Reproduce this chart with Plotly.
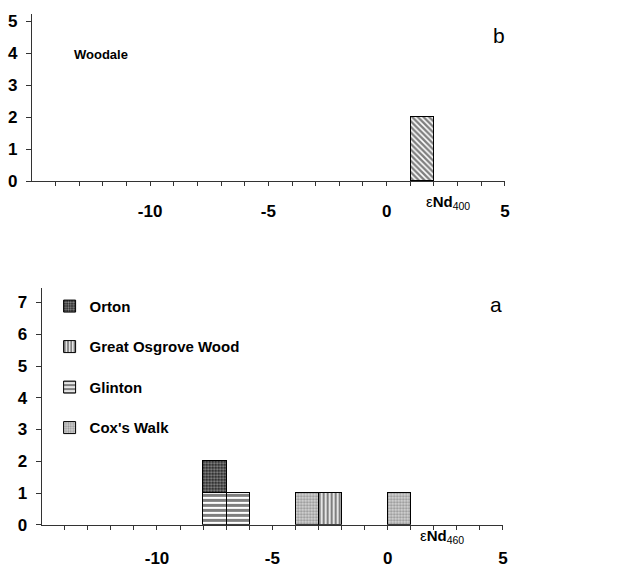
import plotly.graph_objects as go

# epsilon-Nd histogram bins (bin centres, width 1) and sample counts per site
woodale_bins = [1.5]
woodale_counts = [2]

glinton_bins = [-7.5, -6.5]
glinton_counts = [1, 1]
orton_bins = [-7.5]
orton_counts = [1]
coxs_walk_bins = [-3.5, 0.5]
coxs_walk_counts = [1, 1]
osgrove_bins = [-2.5]
osgrove_counts = [1]

x_label_vals = [-10, -5, 0, 5]
x_label_text = ["-10", "-5", "0", "5"]
x_minor_vals = list(range(-14, 6))

W, H = 629, 573
FONT = "Liberation Sans, Arial, Helvetica, sans-serif"


def px_x(p):
    return p / W


def px_y(p):
    return 1 - p / H


fig = go.Figure()

line = dict(color="black", width=1)

# panel b (top)
fig.add_trace(go.Bar(
    x=woodale_bins, y=woodale_counts, width=1, xaxis="x2", yaxis="y2",
    marker=dict(color="white", line=line,
                pattern=dict(shape="\\", size=4, solidity=0.6, fgcolor="black", bgcolor="white")),
    showlegend=False, name="Woodale"))

# panel a (bottom), stacked
fig.add_trace(go.Bar(
    x=glinton_bins, y=glinton_counts, width=1, name="Glinton", legendrank=3, legendgroup="g3",
    marker=dict(color="white", line=line,
                pattern=dict(shape="-", size=5, solidity=0.6, fgcolor="black", bgcolor="white"))))
fig.add_trace(go.Bar(
    x=orton_bins, y=orton_counts, width=1, name="Orton", legendrank=1, legendgroup="g1",
    marker=dict(color="black", line=line,
                pattern=dict(shape=".", size=3, solidity=0.45, fgcolor="white", bgcolor="#222222"))))
fig.add_trace(go.Bar(
    x=coxs_walk_bins, y=coxs_walk_counts, width=1, name="Cox's Walk", legendrank=4, legendgroup="g4",
    marker=dict(color="white", line=line,
                pattern=dict(shape=".", size=3, solidity=0.45, fgcolor="#505050", bgcolor="#d6d6d6"))))
fig.add_trace(go.Bar(
    x=osgrove_bins, y=osgrove_counts, width=1, name="Great Osgrove Wood", legendrank=2, legendgroup="g2",
    marker=dict(color="white", line=line,
                pattern=dict(shape="|", size=4, solidity=0.6, fgcolor="black", bgcolor="white"))))

tick_font = dict(family=FONT, size=17, color="black", weight="bold")

xaxis_common = dict(
    range=[-15, 5], tickmode="array", tickvals=x_label_vals, ticktext=x_label_text,
    ticks="outside", ticklen=4, tickcolor="#333", tickwidth=1,
    minor=dict(tickmode="array", tickvals=x_minor_vals, ticks="outside", ticklen=4,
               tickcolor="#333", tickwidth=1, showgrid=False),
    showline=True, linecolor="#333", linewidth=1, showgrid=False, zeroline=False,
    tickfont=tick_font, ticklabelstandoff=10, fixedrange=True,
)
yaxis_common = dict(
    ticks="outside", ticklen=5, tickcolor="#333", tickwidth=1, dtick=1,
    showline=True, linecolor="#333", linewidth=1, showgrid=False, zeroline=False,
    tickfont=tick_font, ticklabelstandoff=5, fixedrange=True,
)

fig.update_layout(
    width=W, height=H,
    margin=dict(l=0, r=0, t=0, b=0),
    paper_bgcolor="white", plot_bgcolor="white",
    barmode="stack", bargap=0,
    font=dict(family=FONT, color="black"),
    xaxis=dict(xaxis_common, domain=[px_x(42), px_x(507)], anchor="y", ticklabelstandoff=14),
    yaxis=dict(yaxis_common, domain=[px_y(534), px_y(292)], range=[0, 7.46], anchor="x"),
    xaxis2=dict(xaxis_common, domain=[px_x(32), px_x(509)], anchor="y2"),
    yaxis2=dict(yaxis_common, domain=[px_y(183), px_y(12)], range=[0, 5.23], anchor="x2"),
    legend=dict(
        x=px_x(50), y=px_y(294), xanchor="left", yanchor="top",
        font=dict(family=FONT, size=15, weight="bold", color="black"),
        bgcolor="rgba(0,0,0,0)", tracegroupgap=18, traceorder="grouped",
    ),
    annotations=[
        dict(text="b", x=px_x(503), y=px_y(20), xref="paper", yref="paper", xanchor="center",
             showarrow=False, font=dict(size=21, family=FONT)),
        dict(text="a", x=px_x(500), y=px_y(309), xref="paper", yref="paper", xanchor="center",
             showarrow=False, font=dict(size=21, family=FONT)),
        dict(text="<b>Woodale</b>", x=px_x(102), y=px_y(44), xref="paper", yref="paper", xanchor="center",
             showarrow=False, font=dict(size=13, family=FONT)),
        dict(text="ε<b>Nd</b><sub>400</sub>", x=px_x(452), y=px_y(205), xref="paper", yref="paper",
             xanchor="center", showarrow=False, font=dict(size=15, family=FONT)),
        dict(text="ε<b>Nd</b><sub>460</sub>", x=px_x(446), y=px_y(558), xref="paper", yref="paper",
             xanchor="center", showarrow=False, font=dict(size=15, family=FONT)),
    ],
)

fig.write_html("out.html")
